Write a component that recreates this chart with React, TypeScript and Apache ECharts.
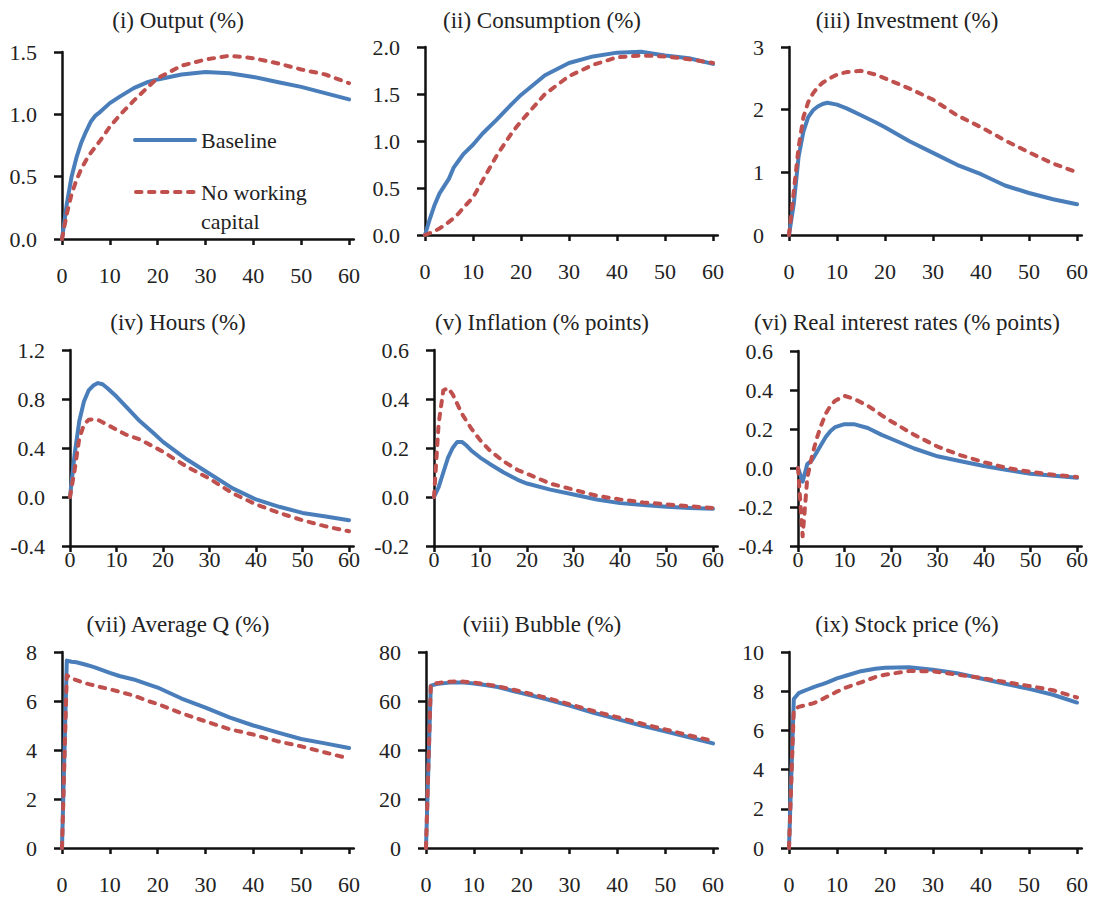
import React, { useEffect, useRef } from "react";
import * as echarts from "echarts";

// Periods (quarters after shock)
const periods = [0, 1, 2, 3, 4, 5, 6, 7, 8, 10, 12, 15, 18, 20, 25, 30, 35, 40, 45, 50, 55, 60];

const seriesNames = ["Baseline", "No working capital"];

const panelTitles = [
  "(i) Output (%)",
  "(ii) Consumption (%)",
  "(iii) Investment (%)",
  "(iv) Hours (%)",
  "(v) Inflation (% points)",
  "(vi) Real interest rates (% points)",
  "(vii) Average Q (%)",
  "(viii) Bubble (%)",
  "(ix) Stock price (%)",
];

// Baseline / No working capital values
const outputBase = [0, 0.28, 0.5, 0.65, 0.77, 0.86, 0.94, 0.99, 1.02, 1.09, 1.14, 1.21, 1.26, 1.28, 1.32, 1.34, 1.33, 1.3, 1.26, 1.22, 1.17, 1.12];
const outputNoWC = [0, 0.2, 0.36, 0.47, 0.56, 0.63, 0.69, 0.74, 0.79, 0.9, 0.99, 1.11, 1.22, 1.29, 1.39, 1.44, 1.47, 1.45, 1.41, 1.36, 1.32, 1.25];

const consBase = [0, 0.17, 0.32, 0.44, 0.52, 0.6, 0.72, 0.79, 0.86, 0.96, 1.08, 1.23, 1.39, 1.49, 1.7, 1.83, 1.9, 1.94, 1.95, 1.91, 1.88, 1.82];
const consNoWC = [0, 0.02, 0.04, 0.07, 0.1, 0.14, 0.18, 0.23, 0.29, 0.4, 0.58, 0.85, 1.08, 1.21, 1.5, 1.69, 1.81, 1.89, 1.91, 1.9, 1.87, 1.83];

const invBase = [0, 0.5, 1.25, 1.65, 1.88, 1.99, 2.05, 2.09, 2.11, 2.08, 2.02, 1.91, 1.8, 1.72, 1.5, 1.31, 1.12, 0.97, 0.79, 0.67, 0.57, 0.49];
const invNoWC = [0, 0.7, 1.4, 1.88, 2.12, 2.26, 2.36, 2.43, 2.48, 2.56, 2.6, 2.62, 2.56, 2.5, 2.34, 2.16, 1.91, 1.72, 1.51, 1.32, 1.14, 1.0];

const hoursBase = [0, 0.35, 0.62, 0.78, 0.87, 0.91, 0.93, 0.92, 0.89, 0.82, 0.74, 0.62, 0.52, 0.45, 0.31, 0.19, 0.07, -0.02, -0.08, -0.13, -0.16, -0.19];
const hoursNoWC = [0, 0.22, 0.48, 0.59, 0.63, 0.635, 0.63, 0.61, 0.59, 0.55, 0.51, 0.47, 0.41, 0.37, 0.25, 0.15, 0.03, -0.06, -0.13, -0.19, -0.24, -0.28];

const inflBase = [0, 0.04, 0.1, 0.16, 0.2, 0.225, 0.225, 0.21, 0.19, 0.16, 0.135, 0.1, 0.07, 0.055, 0.03, 0.01, -0.01, -0.025, -0.033, -0.04, -0.045, -0.048];
const inflNoWC = [0, 0.3, 0.435, 0.445, 0.42, 0.38, 0.34, 0.31, 0.28, 0.23, 0.19, 0.145, 0.11, 0.095, 0.055, 0.03, 0.005, -0.01, -0.022, -0.03, -0.038, -0.045];

const rateBase = [0, -0.07, 0.02, 0.04, 0.08, 0.12, 0.16, 0.19, 0.21, 0.225, 0.225, 0.205, 0.17, 0.15, 0.1, 0.06, 0.035, 0.01, -0.01, -0.03, -0.04, -0.05];
const rateNoWC = [0, -0.35, -0.05, 0.06, 0.15, 0.22, 0.28, 0.32, 0.345, 0.37, 0.355, 0.32, 0.27, 0.24, 0.17, 0.11, 0.065, 0.03, 0.0, -0.02, -0.035, -0.046];

const qBase = [0, 7.65, 7.6, 7.58, 7.53, 7.48, 7.42, 7.36, 7.29, 7.15, 7.02, 6.88, 6.68, 6.55, 6.1, 5.73, 5.33, 5.0, 4.72, 4.45, 4.27, 4.08];
const qNoWC = [0, 7.05, 6.92, 6.85, 6.78, 6.72, 6.67, 6.62, 6.57, 6.48, 6.38, 6.22, 6.0, 5.88, 5.5, 5.17, 4.85, 4.63, 4.36, 4.15, 3.9, 3.65];

const bubbleBase = [0, 66.3, 66.8, 67.1, 67.3, 67.5, 67.6, 67.6, 67.5, 67.1, 66.6, 65.7, 64.2, 63.2, 60.8, 58.1, 55.2, 52.6, 50.0, 47.6, 45.2, 42.7];
const bubbleNoWC = [0, 66.6, 67.2, 67.5, 67.7, 67.9, 68.0, 68.0, 67.9, 67.5, 67.0, 66.0, 64.7, 63.8, 61.4, 58.7, 55.9, 53.4, 50.8, 48.4, 46.0, 43.7];

const stockBase = [0, 7.6, 7.9, 8.0, 8.1, 8.2, 8.28, 8.36, 8.45, 8.65, 8.8, 9.02, 9.15, 9.2, 9.22, 9.1, 8.92, 8.65, 8.38, 8.12, 7.82, 7.42];
const stockNoWC = [0, 7.05, 7.2, 7.26, 7.32, 7.38, 7.48, 7.6, 7.73, 7.98, 8.2, 8.45, 8.72, 8.84, 9.03, 9.01, 8.85, 8.68, 8.47, 8.27, 8.05, 7.68];

const baseSeries = [outputBase, consBase, invBase, hoursBase, inflBase, rateBase, qBase, bubbleBase, stockBase];
const noWCSeries = [outputNoWC, consNoWC, invNoWC, hoursNoWC, inflNoWC, rateNoWC, qNoWC, bubbleNoWC, stockNoWC];

// y-axis ranges
const yMins = [0, 0, 0, -0.4, -0.2, -0.4, 0, 0, 0];
const yMaxs = [1.5, 2.0, 3, 1.2, 0.6, 0.6, 8, 80, 10];
const yIntervals = [0.5, 0.5, 1, 0.4, 0.2, 0.2, 2, 20, 2];
const yDecimals = [1, 1, 0, 1, 1, 1, 0, 0, 0];

const xTickMax = 60;

// layout (pixels)
const gridBoxes = [
  { left: 62, top: 52, w60: 287, height: 187 },
  { left: 425, top: 47, w60: 288, height: 188 },
  { left: 789, top: 47, w60: 288, height: 188 },
  { left: 70, top: 350, w60: 279, height: 196 },
  { left: 434, top: 350, w60: 279, height: 196 },
  { left: 798, top: 351, w60: 279, height: 195 },
  { left: 62, top: 652, w60: 287, height: 196 },
  { left: 426, top: 652, w60: 287, height: 196 },
  { left: 789, top: 652, w60: 288, height: 196 },
];
const titleCenters = [
  [178, 21], [542, 21], [907, 21],
  [178, 323], [542, 323], [907, 323],
  [178, 625], [542, 625], [907, 625],
];
const xLabelMargins = [25, 25, 25, 2, 2, 2, 25, 25, 25];

const BLUE = "#4A7EBB";
const RED = "#C0504D";
const TEXT = "#222222";
const AXIS = "#111111";
const FONT = "Liberation Serif";
const DASH = [5.5, 7.5];

export default function App() {
  const ref = useRef<HTMLDivElement>(null);

  useEffect(() => {
    if (!ref.current) return;
    const chart = echarts.init(ref.current, undefined, { renderer: "svg" });

    const grid = gridBoxes.map((g) => ({
      left: g.left,
      top: g.top,
      width: (g.w60 * 61) / 60,
      height: g.height,
      containLabel: false,
    }));

    const xAxis = gridBoxes.map((_, i) => ({
      type: "value",
      gridIndex: i,
      min: 0,
      max: 61,
      interval: 10,
      splitLine: { show: false },
      axisLine: { onZero: false, lineStyle: { color: AXIS, width: 2.5 } },
      axisTick: { inside: false, length: 6, lineStyle: { color: AXIS, width: 2.5 } },
      axisLabel: {
        margin: xLabelMargins[i],
        fontFamily: FONT,
        fontSize: 22,
        color: TEXT,
        showMaxLabel: false,
        formatter: (v: number) => (v <= xTickMax ? String(v) : ""),
      },
    }));

    const yAxis = gridBoxes.map((_, i) => ({
      type: "value",
      gridIndex: i,
      min: yMins[i],
      max: yMaxs[i],
      interval: yIntervals[i],
      splitLine: { show: false },
      axisLine: { show: true, onZero: false, lineStyle: { color: AXIS, width: 2.5 } },
      axisTick: { show: true, inside: false, length: 8, lineStyle: { color: AXIS, width: 2.5 } },
      axisLabel: {
        margin: 25,
        fontFamily: FONT,
        fontSize: 22,
        color: TEXT,
        formatter: (v: number) =>
          Math.abs(v) < 1e-9 ? (yDecimals[i] ? "0.0" : "0") : v.toFixed(yDecimals[i]),
      },
    }));

    const series: any[] = [];
    for (let i = 0; i < 9; i++) {
      series.push({
        name: seriesNames[0],
        type: "line",
        xAxisIndex: i,
        yAxisIndex: i,
        data: periods.map((t, k) => [t, baseSeries[i][k]]),
        showSymbol: false,
        symbol: "none",
        lineStyle: { color: BLUE, width: 4, cap: "round", join: "round" },
        itemStyle: { color: BLUE },
        z: 2,
      });
      series.push({
        name: seriesNames[1],
        type: "line",
        xAxisIndex: i,
        yAxisIndex: i,
        data: periods.map((t, k) => [t, noWCSeries[i][k]]),
        showSymbol: false,
        symbol: "none",
        lineStyle: { color: RED, width: 4, type: DASH, cap: "round", join: "round" },
        itemStyle: { color: RED },
        z: 3,
      });
    }

    const title = panelTitles.map((t, i) => ({
      text: t,
      left: titleCenters[i][0],
      top: titleCenters[i][1] - 12,
      textAlign: "center",
      padding: 0,
      textStyle: { fontFamily: FONT, fontSize: 23, fontWeight: "normal", color: TEXT },
    }));

    const graphic = [
      {
        type: "line",
        shape: { x1: 135, y1: 140, x2: 195, y2: 140 },
        style: { stroke: BLUE, lineWidth: 4, lineCap: "round" },
      },
      {
        type: "text",
        x: 201,
        y: 140,
        style: { text: seriesNames[0], fontFamily: FONT, fontSize: 22, fill: TEXT, verticalAlign: "middle" },
      },
      {
        type: "line",
        shape: { x1: 136, y1: 192, x2: 194, y2: 192 },
        style: { stroke: RED, lineWidth: 4, lineCap: "round", lineDash: DASH },
      },
      {
        type: "text",
        x: 201,
        y: 177.5,
        style: {
          text: "No working\ncapital",
          fontFamily: FONT,
          fontSize: 22,
          fill: TEXT,
          verticalAlign: "top",
          lineHeight: 29,
        },
      },
    ];

    chart.setOption({
      animation: false,
      backgroundColor: "#ffffff",
      title,
      grid,
      xAxis,
      yAxis,
      series,
      graphic,
    } as any);

    return () => chart.dispose();
  }, []);

  return (
    <div
      ref={ref}
      style={{ position: "absolute", left: 0, top: 0, width: 1099, height: 898 }}
    />
  );
}
